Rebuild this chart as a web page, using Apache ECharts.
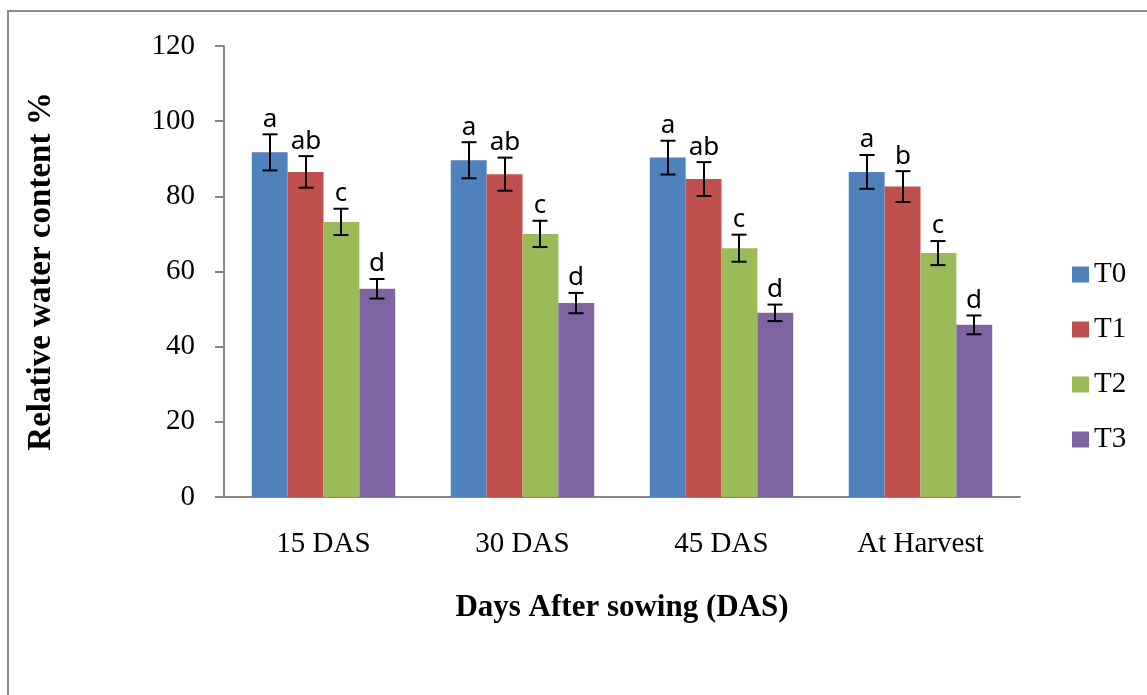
<!DOCTYPE html>
<html>
<head>
<meta charset="utf-8">
<script src="https://cdn.jsdelivr.net/npm/echarts@6/dist/echarts.min.js"></script>
<style>html,body{margin:0;padding:0;background:#fff}#c{width:1147px;height:695px}</style>
</head>
<body>
<div id="c"></div>
<script>
const categories = ['15 DAS', '30 DAS', '45 DAS', 'At Harvest'];
const seriesNames = ['T0', 'T1', 'T2', 'T3'];
const T0 = [91.7, 89.6, 90.3, 86.5];
const T1 = [86.5, 85.9, 84.6, 82.6];
const T2 = [73.2, 70.0, 66.2, 64.9];
const T3 = [55.4, 51.6, 49.0, 45.8];
const T0err = [4.8, 4.8, 4.5, 4.5];
const T1err = [4.2, 4.4, 4.5, 4.1];
const T2err = [3.5, 3.5, 3.6, 3.2];
const T3err = [2.6, 2.7, 2.2, 2.5];
const T0let = ['a', 'a', 'a', 'a'];
const T1let = ['ab', 'ab', 'ab', 'b'];
const T2let = ['c', 'c', 'c', 'c'];
const T3let = ['d', 'd', 'd', 'd'];
const yTicks = { min: 0, max: 120, interval: 20 };
const colors = ['#4F81BD', '#C0504D', '#9BBB59', '#8064A2'];

const values = [T0, T1, T2, T3];
const errs = [T0err, T1err, T2err, T3err];
const lets = [T0let, T1let, T2let, T3let];
const GAP = 0.279;

function makeRender(si) {
  return function (params, api) {
    const cat = api.value(0), v = api.value(1), e = api.value(2);
    const bandW = api.size([1, 0])[0];
    const bw = bandW * (1 - GAP) / 4;
    const c = api.coord([cat, v]);
    const x = Math.round(c[0] + (si - 1.5) * bw);
    const top = api.coord([cat, v + e])[1];
    const bot = api.coord([cat, v - e])[1];
    const cap = 7.5;
    const st = { stroke: '#000', lineWidth: 2 };
    return {
      type: 'group',
      children: [
        { type: 'line', shape: { x1: x, y1: top, x2: x, y2: bot }, style: st },
        { type: 'line', shape: { x1: x - cap, y1: top, x2: x + cap, y2: top }, style: st },
        { type: 'line', shape: { x1: x - cap, y1: bot, x2: x + cap, y2: bot }, style: st },
        { type: 'text', x: x, y: top - 2, style: { text: lets[si][cat], align: 'center', verticalAlign: 'bottom', fontSize: 26, fontFamily: 'Noto Sans', fill: '#000' } }
      ]
    };
  };
}

const series = [];
seriesNames.forEach((n, i) => {
  series.push({
    name: n, type: 'bar', data: values[i], barGap: 0, barCategoryGap: (GAP * 100) + '%',
    itemStyle: { color: colors[i] }
  });
});
seriesNames.forEach((n, i) => {
  series.push({
    name: 'err' + n, type: 'custom', renderItem: makeRender(i),
    data: values[i].map((v, k) => [k, v, errs[i][k]]), z: 10, silent: true
  });
});

const chart = echarts.init(document.getElementById('c'));
chart.setOption({
  animation: false,
  backgroundColor: '#fff',
  graphic: [{ type: 'rect', shape: { x: 8, y: 11, width: 1300, height: 800 }, style: { fill: 'none', stroke: '#8c8c8c', lineWidth: 2 }, z: -1 }],
  grid: { left: 224, right: 127, top: 46, bottom: 198 },
  legend: {
    data: seriesNames, orient: 'vertical', left: 1067, top: 255, itemWidth: 17, itemHeight: 16, itemGap: 26,
    icon: 'rect', textStyle: { fontFamily: 'Liberation Serif', fontSize: 29, color: '#000', padding: [0, 0, 0, 0] }
  },
  xAxis: {
    type: 'category', data: categories,
    name: 'Days After sowing (DAS)', nameLocation: 'middle', nameGap: 95,
    nameTextStyle: { fontFamily: 'Liberation Serif', fontWeight: 'bold', fontSize: 31, color: '#000' },
    axisLine: { lineStyle: { color: '#868686', width: 2 } },
    axisTick: { length: 9, lineStyle: { color: '#868686', width: 2 } },
    axisLabel: { fontFamily: 'Liberation Serif', fontSize: 29, color: '#000', margin: 33 }
  },
  yAxis: {
    type: 'value', min: yTicks.min, max: yTicks.max, interval: yTicks.interval,
    name: 'Relative water content %', nameLocation: 'middle', nameGap: 166, nameRotate: 90,
    nameTextStyle: { fontFamily: 'Liberation Serif', fontWeight: 'bold', fontSize: 33, color: '#000' },
    axisLine: { show: true, lineStyle: { color: '#868686', width: 2 } },
    axisTick: { show: true, length: 9, lineStyle: { color: '#868686', width: 2 } },
    splitLine: { show: false },
    axisLabel: { fontFamily: 'Liberation Serif', fontSize: 29, color: '#000', margin: 29 }
  },
  series: series
});
</script>
</body>
</html>
